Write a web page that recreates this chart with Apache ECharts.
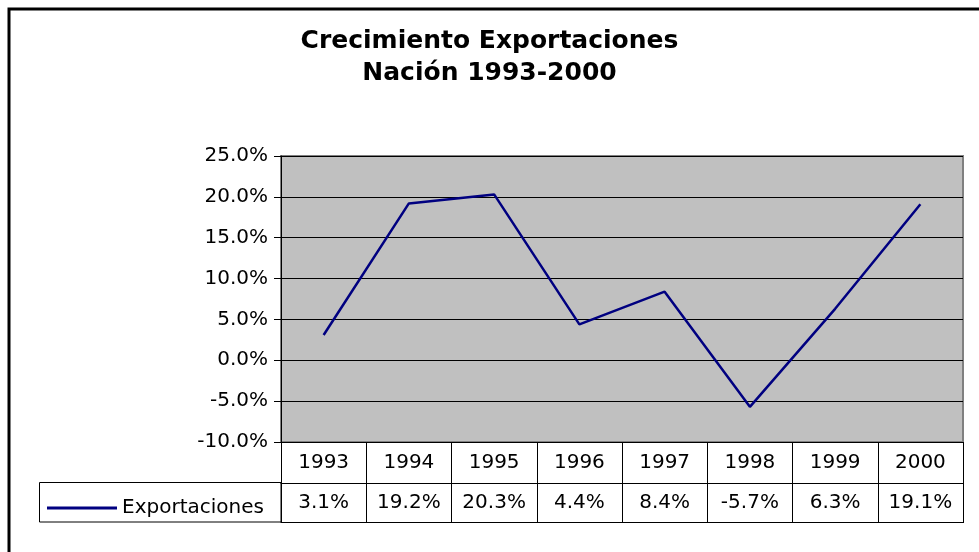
<!DOCTYPE html>
<html>
<head>
<meta charset="utf-8">
<script src="https://cdn.jsdelivr.net/npm/echarts@6/dist/echarts.min.js"></script>
<style>
html,body{margin:0;padding:0;background:#fff;}
#c{width:979px;height:552px;}
</style>
</head>
<body>
<div id="c"></div>
<script>
var years = ['1993','1994','1995','1996','1997','1998','1999','2000'];
var exportaciones = [3.1, 19.2, 20.3, 4.4, 8.4, -5.7, 6.3, 19.1];
var seriesName = 'Exportaciones';
var titleLines = ['Crecimiento Exportaciones', 'Nación 1993-2000'];
var yMin = -10, yMax = 25, yStep = 5;

function pct(v){ return Number(v).toFixed(1) + '%'; }

var FONT = 'DejaVu Sans, Liberation Sans, Arial, sans-serif';
var chart = echarts.init(document.getElementById('c'), null, {renderer:'canvas'});
chart.setOption({
  animation: false,
  backgroundColor: '#ffffff',
  title: {
    text: titleLines.join('\n'),
    left: 'center',
    top: 25,
    padding: [0, 0, 0, 17],
    textStyle: {fontFamily: FONT, fontWeight: 'bold', fontSize: 25, lineHeight: 32, color: '#000'}
  },
  legend: {
    data: [seriesName],
    left: 47,
    top: 498,
    padding: 0,
    icon: 'rect',
    itemWidth: 70,
    itemHeight: 3,
    textStyle: {fontFamily: FONT, fontSize: 20, color: '#000', padding: [0,0,0,0]}
  },
  grid: {
    left: 281, right: 16, top: 156, bottom: 110,
    show: true,
    backgroundColor: '#C0C0C0',
    borderColor: '#808080',
    borderWidth: 2
  },
  xAxis: [
    {
      type: 'category', data: years, position: 'bottom', boundaryGap: true,
      axisLine: {show: true, onZero: false, lineStyle: {color: '#000', width: 1}},
      axisTick: {show: true, interval: 0, length: 81, lineStyle: {color: '#000', width: 1}},
      axisLabel: {interval: 0, margin: 11, fontFamily: FONT, fontSize: 20, color: '#000'},
      splitLine: {show: false}
    },
    {
      type: 'category', data: exportaciones.map(pct), position: 'bottom', offset: 41, boundaryGap: true,
      axisLine: {show: true, onZero: false, lineStyle: {color: '#000', width: 1}},
      axisTick: {show: false},
      axisLabel: {interval: 0, margin: 10, fontFamily: FONT, fontSize: 20, color: '#000'},
      splitLine: {show: false}
    },
    {
      type: 'category', data: years, position: 'bottom', offset: 80, boundaryGap: true,
      axisLine: {show: true, onZero: false, lineStyle: {color: '#000', width: 1}},
      axisTick: {show: false},
      axisLabel: {show: false},
      splitLine: {show: false}
    }
  ],
  yAxis: {
    type: 'value', min: yMin, max: yMax, interval: yStep,
    axisLine: {show: true, lineStyle: {color: '#000', width: 1}},
    axisTick: {show: true, length: 7, lineStyle: {color: '#000'}},
    axisLabel: {margin: 13, fontFamily: FONT, fontSize: 20, color: '#000', formatter: pct},
    splitLine: {show: true, lineStyle: {color: '#000', width: 1}}
  },
  graphic: [
    {type: 'rect', shape: {x: 9, y: 9, width: 1000, height: 600}, style: {fill: 'none', stroke: '#000', lineWidth: 3}, silent: true},
    {type: 'rect', shape: {x: 39.5, y: 482.5, width: 241.5, height: 39.5}, style: {fill: 'none', stroke: '#000', lineWidth: 1}, silent: true, z: -1}
  ],
  series: [{
    name: seriesName,
    type: 'line',
    xAxisIndex: 0,
    data: exportaciones,
    symbol: 'none',
    lineStyle: {color: '#000080', width: 2.5},
    itemStyle: {color: '#000080'}
  }]
});
</script>
</body>
</html>
